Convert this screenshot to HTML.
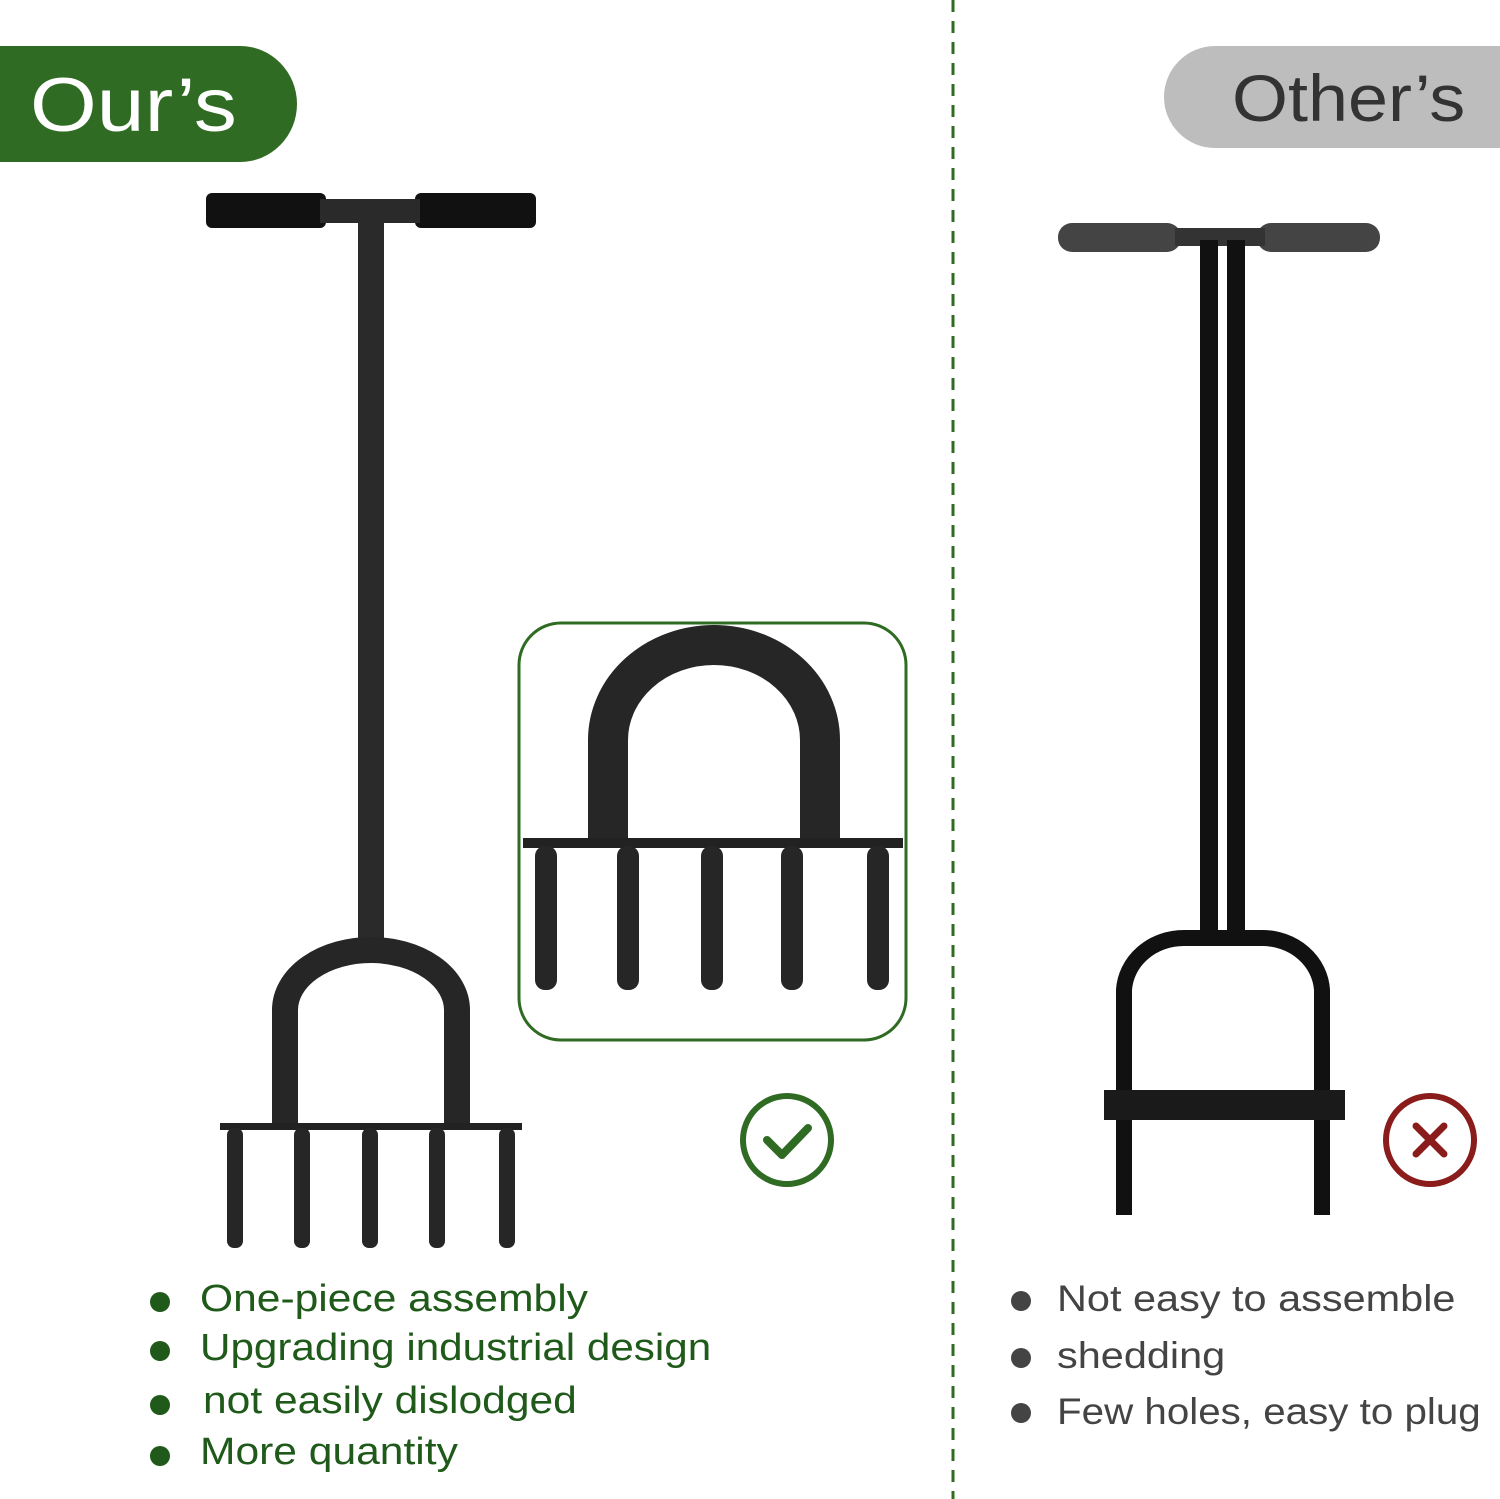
<!DOCTYPE html>
<html><head><meta charset="utf-8"><style>
html,body{margin:0;padding:0;background:#fff}
body{width:1500px;height:1499px;position:relative;overflow:hidden;font-family:"Liberation Sans",sans-serif}
.t{position:absolute;white-space:nowrap;transform-origin:0 0;transform:scaleX(1.12)}
</style></head><body>
<svg width="1500" height="1499" style="position:absolute;left:0;top:0">
<path d="M0 46 H240 A57 58 0 0 1 240 162 H0 Z" fill="#2f6b22"/>
<path d="M1215 46 H1500 V148 H1215 A51 51 0 0 1 1215 46 Z" fill="#bdbdbd"/>
<line x1="953" y1="0" x2="953" y2="1499" stroke="#2f6b22" stroke-width="3" stroke-dasharray="12,9"/>
<rect x="206" y="193" width="120" height="35" rx="6" fill="#111"/>
<rect x="415" y="193" width="121" height="35" rx="6" fill="#111"/>
<rect x="320" y="199" width="100" height="24" fill="#2a2a2a"/>
<rect x="358" y="210" width="26" height="745" fill="#2a2a2a"/>
<path d="M285 1125 V1010 A86 60 0 0 1 457 1010 V1125" fill="none" stroke="#262626" stroke-width="26"/>
<rect x="220" y="1123" width="302" height="7" fill="#222"/>
<g fill="#262626">
<rect x="227" y="1128" width="16" height="120" rx="7"/>
<rect x="294" y="1128" width="16" height="120" rx="7"/>
<rect x="362" y="1128" width="16" height="120" rx="7"/>
<rect x="429" y="1128" width="16" height="120" rx="7"/>
<rect x="499" y="1128" width="16" height="120" rx="7"/>
</g>
<rect x="519" y="623" width="387" height="417" rx="42" fill="none" stroke="#2f6b22" stroke-width="3"/>
<path d="M608 842 V740 A106 95 0 0 1 820 740 V842" fill="none" stroke="#262626" stroke-width="40"/>
<rect x="523" y="838" width="380" height="10" fill="#222"/>
<g fill="#262626">
<rect x="535" y="846" width="22" height="144" rx="10"/>
<rect x="617" y="846" width="22" height="144" rx="10"/>
<rect x="701" y="846" width="22" height="144" rx="10"/>
<rect x="781" y="846" width="22" height="144" rx="10"/>
<rect x="867" y="846" width="22" height="144" rx="10"/>
</g>
<circle cx="787" cy="1140" r="44" fill="none" stroke="#2f6b22" stroke-width="6"/>
<path d="M767 1140 L782 1155 L808 1128" fill="none" stroke="#2f6b22" stroke-width="8" stroke-linecap="round" stroke-linejoin="round"/>
<rect x="1058" y="223" width="123" height="29" rx="14" fill="#444"/>
<rect x="1257" y="223" width="123" height="29" rx="14" fill="#444"/>
<rect x="1175" y="228" width="90" height="18" fill="#333"/>
<rect x="1200" y="240" width="18" height="690" fill="#111"/>
<rect x="1227" y="240" width="18" height="690" fill="#111"/>
<path d="M1124 1215 V990 A60 55 0 0 1 1184 938 H1262 A60 55 0 0 1 1322 990 V1215" fill="none" stroke="#111" stroke-width="16"/>
<rect x="1104" y="1090" width="241" height="30" fill="#1a1a1a"/>
<circle cx="1430" cy="1140" r="44" fill="none" stroke="#8b1c1c" stroke-width="6"/>
<path d="M1416 1126 L1444 1154 M1444 1126 L1416 1154" stroke="#8b1c1c" stroke-width="7" stroke-linecap="round"/>
<g fill="#1f5a1a">
<circle cx="160" cy="1302" r="10"/><circle cx="160" cy="1351" r="10"/><circle cx="160" cy="1405" r="10"/><circle cx="160" cy="1456" r="10"/>
</g>
<g fill="#444">
<circle cx="1021" cy="1301" r="10"/><circle cx="1021" cy="1358" r="10"/><circle cx="1021" cy="1413" r="10"/>
</g>
</svg>
<div class="t" style="left:30px;top:62px;font-size:76px;color:#fff;transform:scaleX(1.13)">Our’s</div>
<div class="t" style="left:1232px;top:60px;font-size:66px;color:#333;transform:scaleX(1.09)">Other’s</div>
<div class="t" style="left:200px;top:1278px;font-size:38px;color:#1f5a1a">One-piece assembly</div>
<div class="t" style="left:200px;top:1327px;font-size:38px;color:#1f5a1a;transform:scaleX(1.11)">Upgrading industrial design</div>
<div class="t" style="left:203px;top:1380px;font-size:38px;color:#1f5a1a">not easily dislodged</div>
<div class="t" style="left:200px;top:1431px;font-size:38px;color:#1f5a1a">More quantity</div>
<div class="t" style="left:1057px;top:1278px;font-size:37px;color:#444">Not easy to assemble</div>
<div class="t" style="left:1057px;top:1335px;font-size:37px;color:#444">shedding</div>
<div class="t" style="left:1057px;top:1391px;font-size:37px;color:#444;transform:scaleX(1.09)">Few holes, easy to plug</div>
</body></html>
